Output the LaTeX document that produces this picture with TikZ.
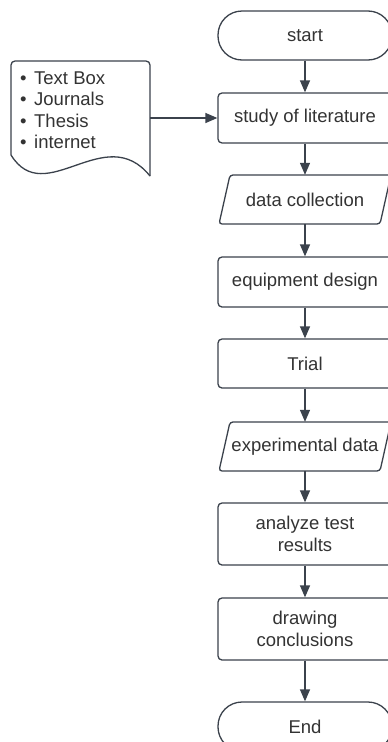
\documentclass[tikz,border=0pt]{standalone}
\usepackage{fontspec}
\setmainfont{Liberation Sans}
\usetikzlibrary{arrows.meta}
\definecolor{lc}{HTML}{3B424C}
\definecolor{tc}{HTML}{333333}
\tikzset{
  line/.style={draw=lc, line width=1.3pt},
  txt/.style={text=tc, font=\fontsize{18.5}{21.5}\selectfont, align=center, inner sep=0pt},
  procbox/.style={txt, line, rounded corners=4pt, minimum width=174pt, minimum height=50pt},
  termbox/.style={txt, line, rounded corners=24pt, minimum width=174pt, minimum height=49pt},
  iobox/.style={txt, minimum width=160pt, minimum height=49pt},
  flow/.style={line, -{Triangle[length=12pt,width=10pt]}}
}
\newcommand{\bul}{\makebox[14pt][l]{•}}
\begin{document}
\begin{tikzpicture}[x=1pt,y=-1pt]
\clip (0,0) rectangle (388,742);
\fill[white] (0,0) rectangle (388,742);
% main column
\node[termbox] (start) at (305,35.5) {start};
\node[procbox] (lit) at (305,118) {study of literature};
\node[iobox] (dc) at (305,199.5) {data collection};
\draw[line, rounded corners=3pt] ([shift={(-86,24.5)}]dc.center) -- ([shift={(-75,-24.5)}]dc.center) -- ([shift={(86,-24.5)}]dc.center) -- ([shift={(75,24.5)}]dc.center) -- cycle;
\node[procbox] (eq) at (305,282) {equipment design};
\node[procbox, minimum height=49pt] (trial) at (305,363.5) {Trial};
\node[iobox] (ed) at (305,446.5) {experimental data};
\draw[line, rounded corners=3pt] ([shift={(-86,24.5)}]ed.center) -- ([shift={(-75,-24.5)}]ed.center) -- ([shift={(86,-24.5)}]ed.center) -- ([shift={(75,24.5)}]ed.center) -- cycle;
\node[procbox, minimum height=62pt] (an) at (305,534) {analyze test\\results};
\node[procbox, minimum height=62pt] (dr) at (305,629) {drawing\\conclusions};
\node[termbox] (end) at (305,726.5) {End};
% document
\draw[line, rounded corners=4pt] (11,155) -- (11,61) -- (150,61) -- (150,176);
\draw[line] (150,176) .. controls (105,120) and (45,210) .. (11,155);
\coordinate (docR) at (150,118);
\node[txt, align=left, anchor=west] (src) at (20,110) {\bul Text Box\\\bul Journals\\\bul Thesis\\\bul internet};
% connectors
\draw[flow] (start) -- (lit);
\draw[flow] (lit) -- (dc);
\draw[flow] (dc) -- (eq);
\draw[flow] (eq) -- (trial);
\draw[flow] (trial) -- (ed);
\draw[flow] (ed) -- (an);
\draw[flow] (an) -- (dr);
\draw[flow] (dr) -- (end);
\draw[flow] (docR) -- (lit);
\end{tikzpicture}
\end{document}
